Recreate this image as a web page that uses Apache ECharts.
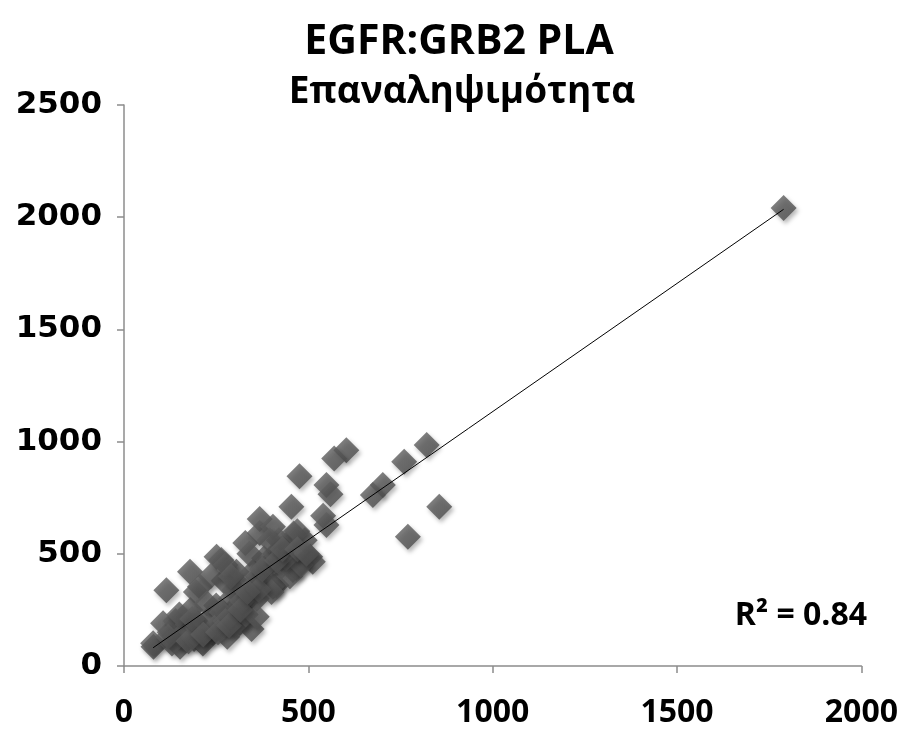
<!DOCTYPE html>
<html><head><meta charset="utf-8">
<script src="https://cdn.jsdelivr.net/npm/echarts@6/dist/echarts.min.js"></script>
<style>html,body{margin:0;padding:0;background:#fff}#c{width:901px;height:730px}</style>
</head><body><div id="c"></div>
<script>
const titleLine1 = 'EGFR:GRB2 PLA';
const titleLine2 = 'Επαναληψιμότητα';
const r2Label = 'R² = 0.84';
const xTickMax = 2000, xTickStep = 500;
const yTickMax = 2500, yTickStep = 500;

const xs = [1789,855,770,821,760,702,675,603,570,476,549,560,454,540,549,368,505,512,467,458,
  404,413,346,314,287,241,214,152,80,79,106,115,179,251,264,329,368,404,420,206,124,
  140,160,170,180,190,200,210,220,230,250,260,270,280,290,300,305,310,320,330,340,350,360,
  370,380,360,390,404,410,425,400,440,450,460,480,490,470,235,195,150,225,275,340,300,355,
  265,245,320,290,395,440,130,275,365,
  120,175,185,215,255,285,315,335,375,415,430,470,495];
const ys = [2041,710,576,985,910,807,762,962,925,846,807,765,710,670,628,655,487,465,437,428,
  353,360,165,190,236,147,100,86,86,101,191,338,420,487,472,548,593,621,560,353,150,
  200,120,160,250,120,190,110,150,210,270,190,380,130,300,180,420,260,350,230,300,420,300,
  390,480,220,450,360,500,440,330,540,400,590,450,560,600,400,330,230,280,450,500,340,380,
  240,170,290,400,560,480,100,200,340,
  130,110,210,140,150,180,250,330,430,470,520,520,500];

const pts = xs.map((x, i) => [x, ys[i]]);
// least-squares trendline from the data
const n = xs.length;
const mx = xs.reduce((a, b) => a + b, 0) / n;
const my = ys.reduce((a, b) => a + b, 0) / n;
let sxy = 0, sxx = 0;
for (let i = 0; i < n; i++) { sxy += (xs[i] - mx) * (ys[i] - my); sxx += (xs[i] - mx) ** 2; }
const slope = sxy / sxx, icpt = my - slope * mx;
const xMin = Math.min(...xs), xMax = Math.max(...xs);
const trend = [[xMin, icpt + slope * xMin], [xMax, icpt + slope * xMax]];

const chart = echarts.init(document.getElementById('c'));
const axisColor = '#8c8c8c';
chart.setOption({
  animation: false,
  grid: { left: 124, top: 105, width: 739, height: 561 },
  xAxis: {
    type: 'value', min: 0, max: xTickMax, interval: xTickStep,
    axisLine: { lineStyle: { color: axisColor, width: 1.5 } },
    axisTick: { show: true, length: 7, lineStyle: { color: axisColor, width: 1.5 } },
    splitLine: { show: false },
    axisLabel: { fontFamily: 'Open Sans', fontWeight: 'bold', fontSize: 32, color: '#000', margin: 31,
      formatter: v => String(v) }
  },
  yAxis: {
    type: 'value', min: 0, max: yTickMax, interval: yTickStep,
    axisLine: { show: true, lineStyle: { color: axisColor, width: 1.5 } },
    axisTick: { show: true, length: 7, lineStyle: { color: axisColor, width: 1.5 } },
    splitLine: { show: false },
    axisLabel: { fontFamily: 'DejaVu Sans', fontWeight: 'bold', fontSize: 31, color: '#000', margin: 22,
      formatter: v => String(v) }
  },
  graphic: [
    { type: 'text', x: 459, y: 42, style: { text: titleLine1, textAlign: 'center', textVerticalAlign: 'middle',
      fontFamily: 'Open Sans', fontWeight: 'bold', fontSize: 41, fill: '#000' } },
    { type: 'text', x: 462, y: 92, style: { text: titleLine2, textAlign: 'center', textVerticalAlign: 'middle',
      fontFamily: 'Open Sans', fontWeight: 'bold', fontSize: 37, fill: '#000' } },
    { type: 'text', x: 867, y: 616, style: { text: r2Label, textAlign: 'right', textVerticalAlign: 'middle',
      fontFamily: 'Open Sans', fontWeight: 'bold', fontSize: 32, fill: '#000' } }
  ],
  series: [
    {
      type: 'scatter', symbol: 'diamond', symbolSize: 26, data: pts,
      itemStyle: {
        color: new echarts.graphic.LinearGradient(0, 0, 1, 1, [
          { offset: 0, color: '#666666' }, { offset: 1, color: '#474747' }]),
        shadowBlur: 4, shadowOffsetX: 2, shadowOffsetY: 3, shadowColor: 'rgba(0,0,0,0.35)'
      },
      z: 2
    },
    {
      type: 'line', data: trend, symbol: 'none', silent: true,
      lineStyle: { color: '#000', width: 1 }, z: 3
    }
  ]
});
</script></body></html>
